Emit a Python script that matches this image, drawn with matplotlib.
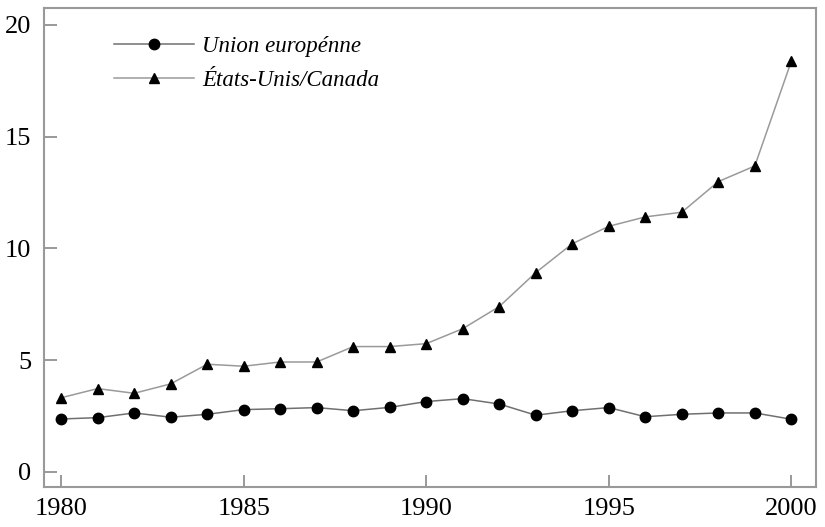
import matplotlib.pyplot as plt

# Data
years = list(range(1980, 2001))
union_europeenne = [2.37, 2.43, 2.64, 2.45, 2.58, 2.79, 2.83, 2.88, 2.74, 2.89,
                    3.15, 3.28, 3.04, 2.54, 2.74, 2.88, 2.47, 2.58, 2.64, 2.64, 2.36]
etats_unis_canada = [3.32, 3.73, 3.52, 3.94, 4.82, 4.73, 4.92, 4.92, 5.61, 5.61,
                     5.74, 6.41, 7.40, 8.92, 10.21, 10.99, 11.41, 11.62, 12.99, 13.69, 18.38]
x_ticks = [1980, 1985, 1990, 1995, 2000]
y_ticks = [0, 5, 10, 15, 20]

plt.rcParams['font.family'] = ['Liberation Serif', 'DejaVu Serif']

fig = plt.figure(figsize=(8.25, 5.27), dpi=100)
ax = fig.add_axes([0.0533, 0.076, 0.936, 0.909])

ax.plot(years, union_europeenne, color="#707070", linewidth=1.1,
        marker="o", markersize=7.5, markerfacecolor="black", markeredgecolor="black",
        label="Union europénne")
ax.plot(years, etats_unis_canada, color="#9a9a9a", linewidth=1.1,
        marker="^", markersize=7.5, markerfacecolor="black", markeredgecolor="black",
        label="États-Unis/Canada")

ax.set_xlim(1979.53, 2000.68)
ax.set_ylim(-0.67, 20.76)
ax.set_xticks(x_ticks)
ax.set_yticks(y_ticks)

for spine in ax.spines.values():
    spine.set_color("#999999")
    spine.set_linewidth(1.5)

ax.tick_params(axis="both", direction="in", length=9, width=1.2, color="#888888",
               labelsize=19, labelcolor="black")
ax.tick_params(axis="y", pad=9)
ax.tick_params(axis="x", pad=8)

leg = ax.legend(loc="upper left", bbox_to_anchor=(0.064, 0.984), frameon=False,
                prop={"style": "italic", "size": 16.5}, handlelength=3.5,
                handletextpad=0.35, labelspacing=0.55)

fig.savefig("out.png", dpi=100)
